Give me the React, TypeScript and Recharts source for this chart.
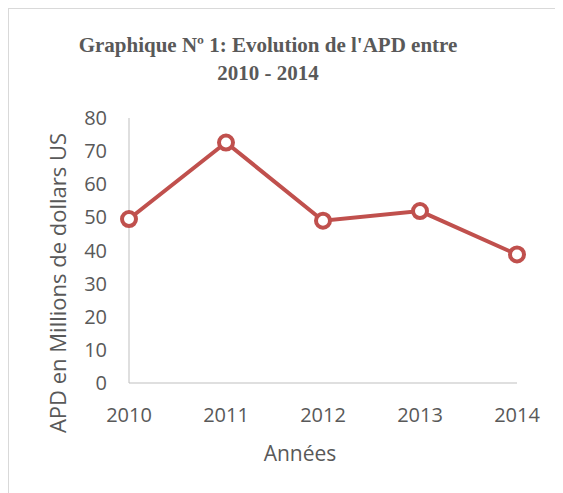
import { CartesianGrid, Label, Line, LineChart, XAxis, YAxis } from 'recharts'

const years = ['2010', '2011', '2012', '2013', '2014']
const apd = [49.5, 72.6, 49.0, 51.9, 38.8]
const yTicks = [0, 10, 20, 30, 40, 50, 60, 70, 80]

const data = years.map((year, i) => ({ year, apd: apd[i] }))

const RED = '#c0504d'
const TEXT = '#595959'
const AXIS = '#bfbfbf'
const SANS = '"Open Sans", "DejaVu Sans", sans-serif'

export default function App() {
  return (
    <div
      style={{
        position: 'relative',
        width: 560,
        height: 490,
        borderTop: '1px solid #d9d9d9',
        borderLeft: '1px solid #d9d9d9',
        background: '#fff',
        overflow: 'hidden',
      }}
    >
      <div
        style={{
          position: 'absolute',
          left: 0,
          top: 22,
          width: 518,
          textAlign: 'center',
          fontFamily: '"Liberation Serif", "Times New Roman", serif',
          fontWeight: 'bold',
          fontSize: 21,
          lineHeight: '28px',
          color: TEXT,
        }}
      >
        Graphique Nº 1: Evolution de l'APD entre
        <br />
        2010 - 2014
      </div>
      <LineChart
        width={554}
        height={484}
        data={data}
        margin={{ top: 109, right: 46, bottom: 50, left: 0 }}
      >
        <CartesianGrid stroke="none" />
        <XAxis
          dataKey="year"
          height={60}
          padding={{ left: 0, right: 0 }}
          stroke={AXIS}
          tickLine={false}
          tickSize={0}
          tickMargin={25}
          tick={{ fill: TEXT, fontSize: 20, fontFamily: SANS }}
        >
          <Label
            content={() => (
              <text x={291} y={452} textAnchor="middle" fill={TEXT} fontSize={21} fontFamily={SANS}>
                Années
              </text>
            )}
          />
        </XAxis>
        <YAxis
          width={120}
          domain={[0, 80]}
          ticks={yTicks}
          stroke={AXIS}
          tickLine={false}
          tickSize={0}
          tickMargin={22}
          tick={{ fill: TEXT, fontSize: 20, fontFamily: SANS }}
        >
          <Label
            content={() => (
              <text
                x={48}
                y={274}
                textAnchor="middle"
                dominantBaseline="central"
                transform="rotate(-90, 48, 274)"
                fill={TEXT}
                fontSize={22}
                fontFamily={SANS}
              >
                APD en Millions de dollars US
              </text>
            )}
          />
        </YAxis>
        <Line
          type="linear"
          dataKey="apd"
          stroke={RED}
          strokeWidth={4}
          dot={{ r: 7, fill: '#fff', stroke: RED, strokeWidth: 4 }}
          activeDot={false}
          isAnimationActive={false}
        />
      </LineChart>
    </div>
  )
}
